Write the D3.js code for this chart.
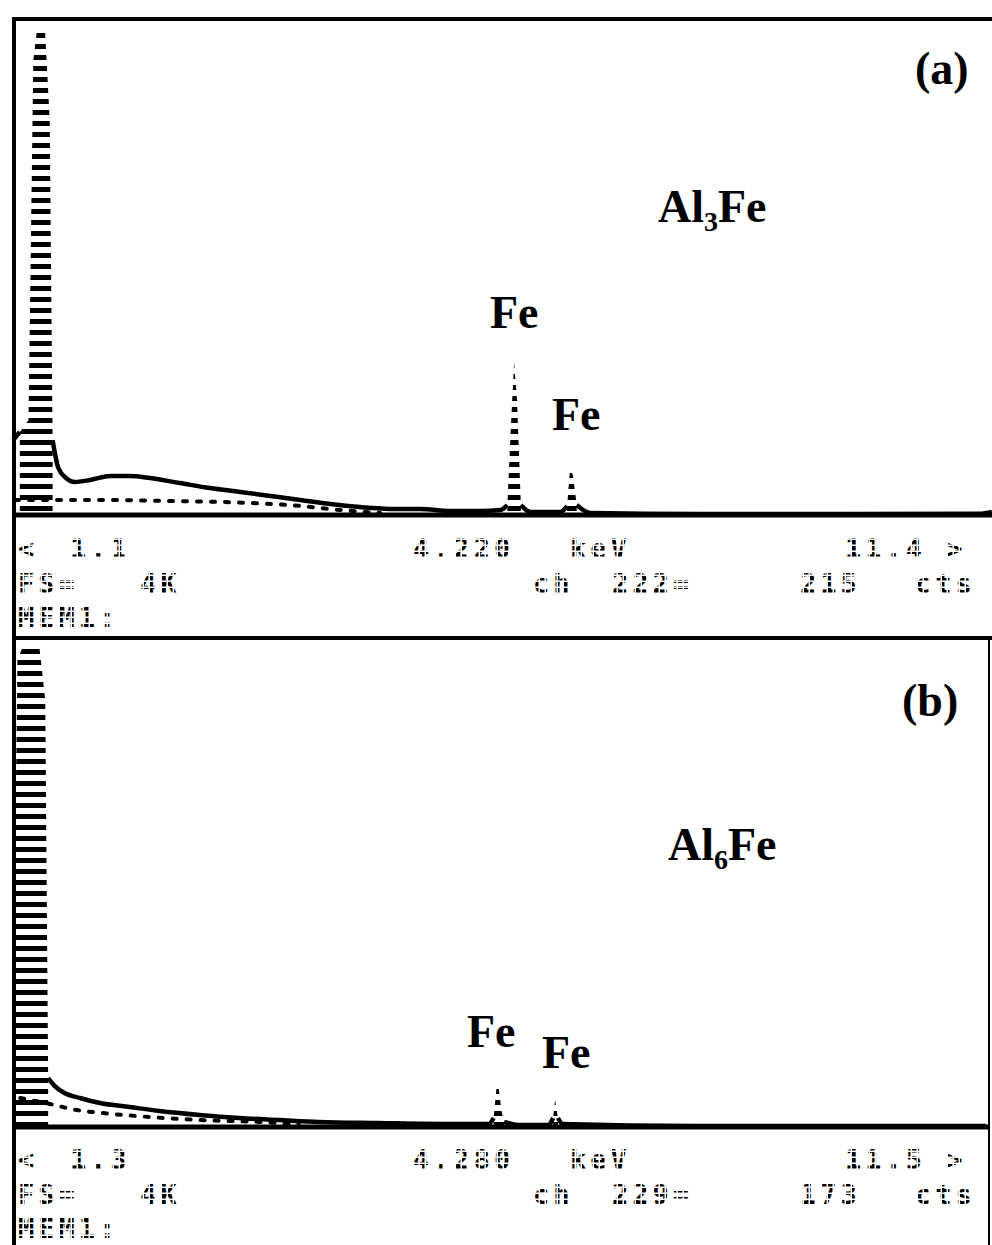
<!DOCTYPE html>
<html lang="en">
<head>
<meta charset="UTF-8">
<title>EDS spectra - Al3Fe / Al6Fe</title>
<script src="https://d3js.org/d3.v7.min.js"></script>
<style>
  body { margin: 0; background: #fff; }
  svg { display: block; background: #fff; }
</style>
</head>
<body>
<svg id="chart" width="992" height="1245"></svg>
<script>
// energy in keV, counts on a 4K full scale

// (a) Al3Fe
const energyA = [1.19, 1.26, 1.35, 1.40, 1.44, 1.52, 1.57, 1.60, 1.66, 1.74, 1.83, 1.99, 2.20, 2.40, 2.61, 2.92, 3.23, 3.55, 3.86, 4.17, 4.48, 4.79, 5.16, 5.41, 5.73, 6.04, 6.25, 6.32, 6.36, 6.39, 6.42, 6.46, 6.56, 6.87, 6.94, 6.97, 7.00, 7.04, 7.18, 8.32, 9.88, 11.22, 11.35];
const countsA = [623, 690, 789, 3780, 4045, 4045, 3280, 623, 390, 307, 274, 291, 324, 324, 307, 266, 224, 191, 158, 125, 91, 66, 50, 50, 33, 33, 42, 83, 789, 1270, 955, 83, 25, 25, 75, 374, 332, 83, 17, 8, 8, 10, 25];
const lowerEnergyA = [1.21, 1.68, 2.09, 2.82, 3.65, 4.17, 4.58, 5.00];
const lowerCountsA = [125, 125, 125, 116, 100, 75, 42, 17];
const peaksA = [[1.26, 1.60], [6.32, 6.46], [6.94, 7.04]];

// (b) Al6Fe
const energyB = [1.34, 1.39, 1.44, 1.62, 1.68, 1.71, 1.78, 1.88, 2.04, 2.25, 2.56, 2.87, 3.29, 3.70, 4.12, 4.53, 5.15, 5.88, 6.30, 6.35, 6.38, 6.40, 6.43, 6.46, 6.61, 6.92, 6.97, 6.99, 7.02, 7.07, 8.48, 11.48];
const countsB = [432, 3879, 3978, 3978, 3546, 407, 340, 282, 241, 199, 166, 133, 100, 75, 58, 42, 33, 25, 25, 75, 324, 349, 141, 42, 17, 17, 75, 224, 75, 25, 8, 8];
const lowerEnergyB = [1.42, 1.73, 2.01, 2.28, 2.77, 3.29, 3.91, 4.32];
const lowerCountsB = [241, 191, 141, 116, 83, 58, 42, 25];
const peaksB = [[1.34, 1.71], [6.35, 6.46], [6.97, 7.02]];

// readout lines under each spectrum
const readoutA = ["<", "1.1", "4.220", "keV", "11.4 >", "FS=", "4K", "ch", "222=", "215", "cts", "MEM1:"];
const readoutB = ["<", "1.3", "4.280", "keV", "11.5 >", "FS=", "4K", "ch", "229=", "173", "cts", "MEM1:"];

const phaseLabels = [["Al", "3", "Fe"], ["Al", "6", "Fe"]];
const panelTags = ["(a)", "(b)"];

const svg = d3.select("#chart");
const W = 992, H = 1245;

const defs = svg.append("defs");
defs.append("pattern")
    .attr("id", "stripes")
    .attr("width", 8).attr("height", 11)
    .attr("patternUnits", "userSpaceOnUse")
  .append("rect")
    .attr("width", 8).attr("height", 5).attr("fill", "#000");
defs.append("pattern")
    .attr("id", "dots")
    .attr("width", 6).attr("height", 6)
    .attr("patternUnits", "userSpaceOnUse")
  .append("rect")
    .attr("width", 4.5).attr("height", 4.5).attr("fill", "#000");

const panels = [
  {energy: energyA, counts: countsA, lowE: lowerEnergyA, lowC: lowerCountsA, peaks: peaksA,
   readout: readoutA, domain: [1.189, 11.35], right: W, base: 515,
   phase: phaseLabels[0], tag: panelTags[0],
   tagPos: [915, 84], phasePos: [658, 222], fePos: [[490, 328], [552, 430]], rows: [558, 593, 627]},
  {energy: energyB, counts: countsB, lowE: lowerEnergyB, lowC: lowerCountsB, peaks: peaksB,
   readout: readoutB, domain: [1.344, 11.51], right: 989, base: 1127,
   phase: phaseLabels[1], tag: panelTags[1],
   tagPos: [902, 716], phasePos: [668, 860], fePos: [[467, 1047], [542, 1068]], rows: [1169, 1204, 1238]}
];

const serif = "'Liberation Serif', 'Times New Roman', serif";
const mono = "'DejaVu Sans Mono', 'Liberation Mono', monospace";

// frame
svg.append("line").attr("x1", 12).attr("x2", W).attr("y1", 19).attr("y2", 19)
    .attr("stroke", "#000").attr("stroke-width", 4);
svg.append("line").attr("x1", 14).attr("x2", 14).attr("y1", 17).attr("y2", H)
    .attr("stroke", "#000").attr("stroke-width", 4);
svg.append("line").attr("x1", 12).attr("x2", W).attr("y1", 638).attr("y2", 638)
    .attr("stroke", "#000").attr("stroke-width", 4);
svg.append("line").attr("x1", 989).attr("x2", 989).attr("y1", 640).attr("y2", H)
    .attr("stroke", "#000").attr("stroke-width", 2);

panels.forEach(p => {
  const x = d3.scaleLinear().domain(p.domain).range([13, p.right]);
  const y = d3.scaleLinear().domain([0, 4096]).range([p.base, p.base - 493]);
  const pts = p.energy.map((e, i) => ({e, c: p.counts[i]}));
  const low = p.lowE.map((e, i) => ({e, c: p.lowC[i]}));
  const inPeak = e => p.peaks.some(([lo, hi]) => e >= lo && e <= hi);
  const onEdge = e => p.peaks.some(([lo, hi]) => e === lo || e === hi);

  // faint second trace under the background
  svg.append("path")
      .datum(low)
      .attr("d", d3.line().x(d => x(d.e)).y(d => y(d.c)).curve(d3.curveMonotoneX))
      .attr("fill", "none")
      .attr("stroke", "#000")
      .attr("stroke-width", 4)
      .attr("stroke-linecap", "round")
      .attr("stroke-dasharray", "4 10");

  // peak columns, printed as broken bars
  svg.append("path")
      .datum(pts)
      .attr("d", d3.area().defined(d => inPeak(d.e)).x(d => x(d.e)).y0(y(0)).y1(d => y(d.c)))
      .attr("fill", "url(#stripes)");

  // background trace
  svg.append("path")
      .datum(pts)
      .attr("d", d3.line().defined(d => !inPeak(d.e) || onEdge(d.e))
          .x(d => x(d.e)).y(d => y(d.c)).curve(d3.curveMonotoneX))
      .attr("fill", "none")
      .attr("stroke", "#000")
      .attr("stroke-width", 4.5)
      .attr("stroke-linejoin", "round");

  // zero line
  svg.append("line")
      .attr("x1", 12).attr("x2", p.right)
      .attr("y1", y(0)).attr("y2", y(0))
      .attr("stroke", "#000").attr("stroke-width", 5);

  // labels
  svg.append("text")
      .attr("x", p.tagPos[0]).attr("y", p.tagPos[1])
      .attr("font-family", serif).attr("font-weight", "bold").attr("font-size", 46)
      .text(p.tag);

  const ph = svg.append("text")
      .attr("x", p.phasePos[0]).attr("y", p.phasePos[1])
      .attr("font-family", serif).attr("font-weight", "bold").attr("font-size", 46);
  ph.append("tspan").text(p.phase[0]);
  ph.append("tspan").attr("dy", 9).attr("font-size", 28).text(p.phase[1]);
  ph.append("tspan").attr("dy", -9).text(p.phase[2]);

  p.fePos.forEach(([fx, fy]) => {
    svg.append("text")
        .attr("x", fx).attr("y", fy)
        .attr("font-family", serif).attr("font-weight", "bold").attr("font-size", 46)
        .text("Fe");
  });

  // dot-matrix readout
  const slots = [[18, 0], [70, 0], [413, 0], [570, 0], [845, 0],
                 [18, 1], [140, 1], [533, 1], [612, 1], [800, 1], [915, 1],
                 [18, 2]];
  p.readout.forEach((s, i) => {
    svg.append("text")
        .attr("x", slots[i][0]).attr("y", p.rows[slots[i][1]])
        .attr("font-family", mono).attr("font-weight", "bold").attr("font-size", 27)
        .attr("letter-spacing", 4)
        .attr("fill", "url(#dots)")
        .style("white-space", "pre")
        .text(s);
  });
});
</script>
</body>
</html>
